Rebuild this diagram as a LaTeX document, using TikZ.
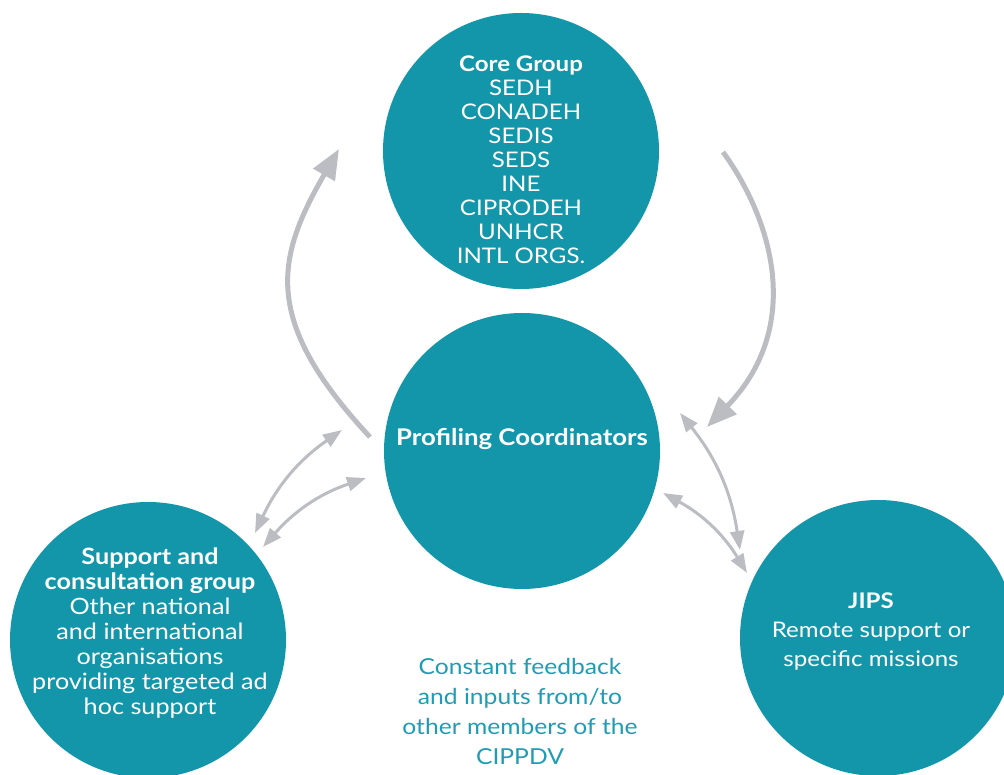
\documentclass[tikz,border=0pt]{standalone}
\usepackage{fontspec}
\setmainfont{Lato}[FakeStretch=1.12]
\usetikzlibrary{arrows.meta,positioning}
\definecolor{groupteal}{RGB}{20,150,170}
\definecolor{noteteal}{RGB}{30,156,180}
\definecolor{arrowgray}{RGB}{188,189,194}
\tikzset{
  bigarrow/.style = {draw=arrowgray, line width=5pt, -{Triangle[length=30pt,width=24pt]}},
  twoway/.style = {draw=arrowgray, line width=3pt, {Triangle[length=19pt,width=14pt]}-{Triangle[length=19pt,width=14pt]}}
}
\begin{document}
\begin{tikzpicture}[x=1pt, y=1pt]
\useasboundingbox (0,0) rectangle (1004,774);
\begin{scope}[every node/.style = {circle, fill=groupteal, minimum size=276pt, inner sep=0pt}]
\node (core) at (521,623) {};
\node (prof) at (522,323) {};
\node (supp) at (148,134) {};
\node (jips) at (878,136) {};
\end{scope}
\begin{scope}[every node/.style = {text=white, align=center, inner sep=0pt}]
\node[font=\fontsize{21.5}{24}\selectfont] (core-t) at ([yshift=-9pt]core.center)
  {\textbf{Core Group}\\SEDH\\CONADEH\\SEDIS\\SEDS\\INE\\CIPRODEH\\UNHCR\\INTL ORGS.};
\node[font=\bfseries\fontsize{23}{26}\selectfont] (prof-t) at ([yshift=12pt]prof.center)
  {Profiling Coordinators};
\node[font=\fontsize{22.5}{25}\selectfont] (supp-t) at ([shift={(2,7)}]supp.center)
  {\textbf{Support and}\\\textbf{consultation group}\\Other national\\and international\\organisations\\providing targeted ad\\hoc support};
\node[font=\fontsize{21.5}{29}\selectfont] (jips-t) at ([shift={(-7,7)}]jips.center)
  {\textbf{JIPS}\\Remote support or\\specific missions};
\end{scope}
\node[text=noteteal, align=center, inner sep=0pt, font=\fontsize{22}{30}\selectfont] (note) at (520,63)
  {Constant feedback\\and inputs from/to\\other members of the\\CIPPDV};
% arrow ends
\coordinate (arcL-a) at ([shift={(-152,14)}]prof.center);
\coordinate (arcL-b) at ([shift={(-182,2)}]core.center);
\coordinate (arcR-a) at ([shift={(202,-1)}]core.center);
\coordinate (arcR-b) at ([shift={(185,24)}]prof.center);
\coordinate (linkL1-a) at ([shift={(-180,21)}]prof.center);
\coordinate (linkL1-b) at ([shift={(107,107)}]supp.center);
\coordinate (linkL2-a) at ([shift={(-156,-27)}]prof.center);
\coordinate (linkL2-b) at ([shift={(115,93)}]supp.center);
\coordinate (linkR1-a) at ([shift={(158,38)}]prof.center);
\coordinate (linkR1-b) at ([shift={(-138,88)}]jips.center);
\coordinate (linkR2-a) at ([shift={(141,-42)}]prof.center);
\coordinate (linkR2-b) at ([shift={(-131,65)}]jips.center);
\draw[bigarrow] (arcL-a) .. controls +(-109,117) and +(-63,-109) .. (arcL-b);
\draw[bigarrow] (arcR-a) .. controls +(52,-72) and +(95,98) .. (arcR-b);
\draw[twoway] (linkL1-a) to[bend right=15] (linkL1-b);
\draw[twoway] (linkL2-a) to[bend right=15] (linkL2-b);
\draw[twoway] (linkR1-a) to[bend left=15] (linkR1-b);
\draw[twoway] (linkR2-a) to[bend left=15] (linkR2-b);
\end{tikzpicture}
\end{document}
